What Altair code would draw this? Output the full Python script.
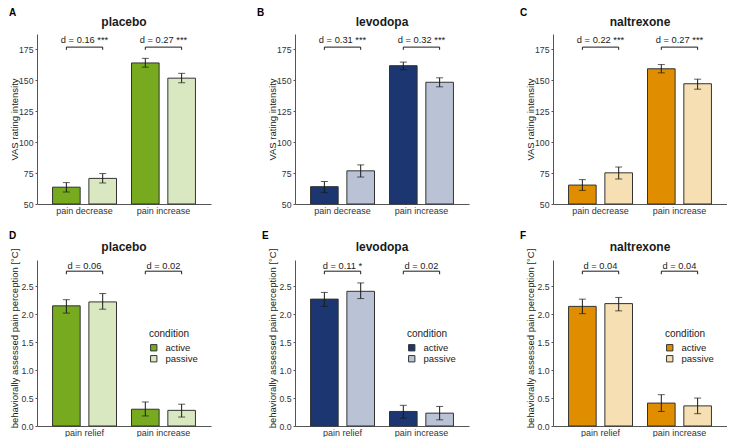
import altair as alt
import pandas as pd

# ---------------- data ----------------
drugs = ["placebo", "levodopa", "naltrexone"]
conditions = ["active", "passive"]
groups_top = ["pain decrease", "pain increase"]
groups_bot = ["pain relief", "pain increase"]
letters_top = ["A", "B", "C"]
letters_bot = ["D", "E", "F"]

# order of values: [group1-active, group1-passive, group2-active, group2-passive]
vas_mean = {
    "placebo": [63.6, 70.7, 164.0, 151.7],
    "levodopa": [64.0, 76.8, 161.8, 148.4],
    "naltrexone": [65.3, 75.2, 159.3, 147.2],
}
vas_lo = {
    "placebo": [59.7, 67.0, 160.6, 148.0],
    "levodopa": [59.2, 71.8, 158.6, 144.7],
    "naltrexone": [61.0, 70.2, 156.0, 142.8],
}
vas_hi = {
    "placebo": [67.3, 74.6, 167.7, 155.6],
    "levodopa": [68.2, 81.6, 164.7, 152.0],
    "naltrexone": [69.7, 79.9, 162.7, 150.9],
}
vas_d = {
    "placebo": ["d = 0.16 ***", "d = 0.27 ***"],
    "levodopa": ["d = 0.31 ***", "d = 0.32 ***"],
    "naltrexone": ["d = 0.22 ***", "d = 0.27 ***"],
}

beh_mean = {
    "placebo": [2.15, 2.22, 0.30, 0.28],
    "levodopa": [2.27, 2.41, 0.26, 0.23],
    "naltrexone": [2.14, 2.19, 0.41, 0.36],
}
beh_lo = {
    "placebo": [2.02, 2.09, 0.18, 0.16],
    "levodopa": [2.14, 2.28, 0.14, 0.11],
    "naltrexone": [2.01, 2.06, 0.26, 0.22],
}
beh_hi = {
    "placebo": [2.26, 2.37, 0.43, 0.39],
    "levodopa": [2.39, 2.56, 0.37, 0.35],
    "naltrexone": [2.27, 2.30, 0.56, 0.50],
}
beh_d = {
    "placebo": ["d = 0.06", "d = 0.02"],
    "levodopa": ["d = 0.11 *", "d = 0.02"],
    "naltrexone": ["d = 0.04", "d = 0.04"],
}

vas_ticks = [50, 75, 100, 125, 150, 175]
beh_ticks = [0.0, 0.5, 1.0, 1.5, 2.0, 2.5]

palette = {
    "placebo": ["#77AA1F", "#D9E8C1"],
    "levodopa": ["#1B3670", "#BAC3D5"],
    "naltrexone": ["#E08E00", "#F6DFB2"],
}

# ---------------- layout ----------------
W = 174
H_TOP = 170
H_BOT = 166
FONT = "Liberation Sans"
INK = "#1a1a1a"


def panel(drug, groups, means, los, his, dlabels, letter, domain, ticks, fmt,
          ytitle, H, bracket_y, drop, text_y, show_legend, letter_dx, letter_dy,
          title_dy, ytitle_y):
    rows = []
    for gi, g in enumerate(groups):
        for ci, c in enumerate(conditions):
            k = gi * 2 + ci
            rows.append(dict(group=g, condition=c, mean=means[k], lo=los[k],
                             hi=his[k], base=domain[0], by=bracket_y,
                             by2=bracket_y - drop))
    df = pd.DataFrame(rows)
    lab = pd.DataFrame({"group": groups, "label": dlabels,
                        "ty": [text_y] * len(groups)})

    xaxis = alt.Axis(title=None, labelAngle=0, ticks=False, labelPadding=2,
                     labelFontSize=9, domainColor="#555555",
                     labelColor="#333333")
    xenc = alt.X("group:N", sort=groups, axis=xaxis,
                 scale=alt.Scale(paddingInner=0.19, paddingOuter=0.197))
    xoff = alt.XOffset("condition:N", sort=conditions,
                       scale=alt.Scale(paddingInner=0.24, paddingOuter=0))
    yscale = alt.Scale(domain=domain, nice=False, zero=False)
    yaxis = alt.Axis(title=ytitle, values=ticks, format=fmt, titleX=-28,
                     titleY=ytitle_y, titleBaseline="top", titleAngle=270,
                     labelFontSize=8.7, tickSize=2, labelPadding=2)

    if show_legend:
        legend = alt.Legend(orient="none", legendX=112, legendY=69,
                            title="condition")
    else:
        legend = None
    color = alt.Color("condition:N", sort=conditions,
                      scale=alt.Scale(domain=conditions, range=palette[drug]),
                      legend=legend)

    bars = alt.Chart(df).mark_bar(stroke="#333333", strokeWidth=1).encode(
        x=xenc, xOffset=xoff,
        y=alt.Y("mean:Q", scale=yscale, axis=yaxis), y2="base:Q",
        color=color)
    err = alt.Chart(df).mark_rule(color=INK, strokeWidth=1).encode(
        x=xenc, xOffset=xoff,
        y=alt.Y("lo:Q", scale=yscale, axis=yaxis), y2="hi:Q")
    cap_lo = alt.Chart(df).mark_tick(color=INK, size=7, thickness=1).encode(
        x=xenc, xOffset=xoff, y=alt.Y("lo:Q", scale=yscale, axis=yaxis))
    cap_hi = alt.Chart(df).mark_tick(color=INK, size=7, thickness=1).encode(
        x=xenc, xOffset=xoff, y=alt.Y("hi:Q", scale=yscale, axis=yaxis))
    br = alt.Chart(df).mark_line(color=INK, strokeWidth=1).encode(
        x=xenc, xOffset=xoff, y=alt.Y("by:Q", scale=yscale, axis=yaxis),
        detail="group:N")
    br_end = alt.Chart(df).mark_rule(color=INK, strokeWidth=1).encode(
        x=xenc, xOffset=xoff, y=alt.Y("by:Q", scale=yscale, axis=yaxis),
        y2="by2:Q")
    txt = alt.Chart(lab).mark_text(fontSize=9.3, color=INK, baseline="middle").encode(
        x=xenc, y=alt.Y("ty:Q", scale=yscale, axis=yaxis), text="label:N")
    ttl = alt.Chart(pd.DataFrame({"t": [drug]})).mark_text(
        fontSize=12, fontWeight="bold", color=INK, baseline="middle").encode(
        x=alt.value(W / 2), y=alt.value(title_dy), text="t:N")
    let = alt.Chart(pd.DataFrame({"t": [letter]})).mark_text(
        fontSize=10, fontWeight="bold", color="#000000", align="left",
        baseline="top").encode(
        x=alt.value(letter_dx), y=alt.value(letter_dy), text="t:N")
    return alt.layer(bars, err, cap_lo, cap_hi, br, br_end, txt, ttl, let).properties(
        width=W, height=H)


letter_dx_top = [-28, -38, -33]
letter_dx_bot = [-28, -33, -33]

panels = []
for i, drug in enumerate(drugs):
    panels.append(panel(drug, groups_top, vas_mean[drug], vas_lo[drug],
                        vas_hi[drug], vas_d[drug], letters_top[i],
                        [50, 187.4], vas_ticks, "d", "VAS rating intensity",
                        H_TOP, 176.8, 2.2, 182.8, False, letter_dx_top[i], -26,
                        -12, H_TOP / 2))
for i, drug in enumerate(drugs):
    panels.append(panel(drug, groups_bot, beh_mean[drug], beh_lo[drug],
                        beh_hi[drug], beh_d[drug], letters_bot[i],
                        [0, 2.97], beh_ticks, ".1f",
                        "behaviorally assessed pain perception [°C]",
                        H_BOT, 2.77, 0.055, 2.87, True, letter_dx_bot[i], -29,
                        -13.5, 78))

chart = alt.concat(
    *panels, columns=3, bounds="flush",
    spacing=alt.RowColnumber(row=56, column=84),
).resolve_scale(
    x="independent", y="independent", color="independent"
).resolve_legend(color="independent").configure_view(
    stroke=None
).configure_axis(
    grid=False, domainColor="#555555", domainWidth=1, tickColor="#555555",
    labelColor="#333333", labelFont=FONT, titleFont=FONT, titleFontSize=9.5,
    titleFontWeight="normal", titleColor=INK,
).configure_text(font=FONT).configure_legend(
    titleFont=FONT, titleFontSize=10, titleFontWeight="normal", titleColor=INK,
    labelFont=FONT, labelFontSize=9.5, labelColor=INK, symbolType="square",
    symbolSize=40, symbolStrokeColor="#333333", symbolStrokeWidth=1,
    rowPadding=0, titlePadding=4, labelOffset=7,
).properties(padding=0)

chart.save("out.html", embed_options={"renderer": "svg", "actions": False})
